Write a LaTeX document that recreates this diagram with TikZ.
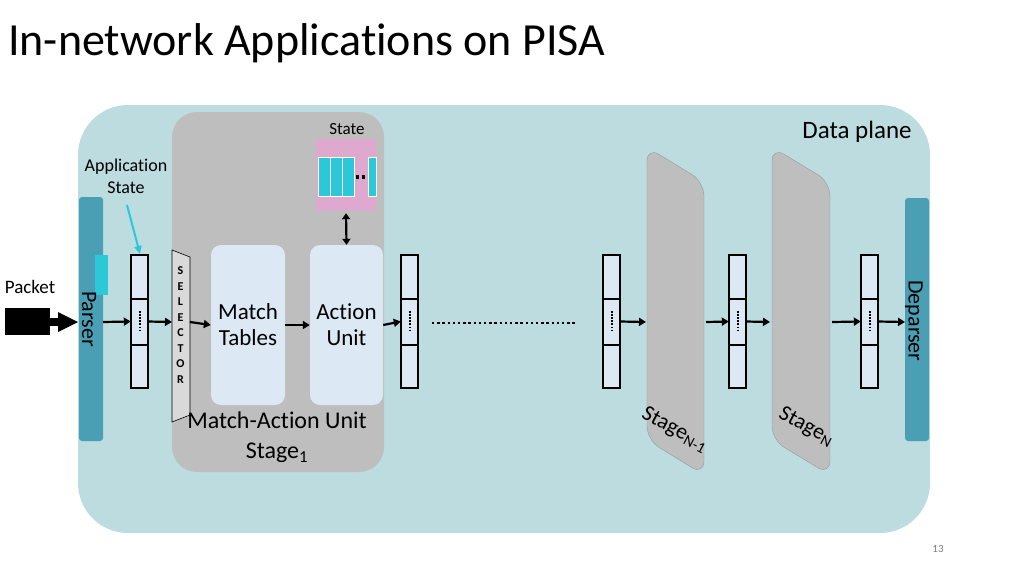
\documentclass[tikz,border=0pt]{standalone}
\usepackage{fontspec}
\setmainfont{Carlito}[Ligatures=NoCommon]
\usetikzlibrary{arrows.meta}
\definecolor{bgblue}{HTML}{BCDCE0}
\definecolor{mau}{HTML}{BEBEBE}
\definecolor{parsec}{HTML}{4A9FB5}
\definecolor{cellc}{HTML}{DCE9F5}
\definecolor{boxc}{HTML}{DCE8F4}
\definecolor{pinkc}{HTML}{DFA8CF}
\definecolor{cyanc}{HTML}{2CC8D8}
\tikzset{
  ar/.style={-{Triangle[length=7pt,width=8pt]}, line width=2.2pt},
  cell/.style={draw=black, line width=2.5pt, fill=cellc},
  unit/.style={fill=boxc, rounded corners=10pt},
  stage/.style={fill=mau, draw=gray!80, rounded corners=14pt},
  lbl/.style={font=\fontsize{17}{19}\selectfont, align=center},
}
\newcommand{\phv}[2]{% name, x left
  \draw[cell] (#2,255) rectangle (#2+17,299);
  \draw[cell] (#2,299) rectangle (#2+17,345);
  \draw[cell] (#2,345) rectangle (#2+17,388);
  \node[inner sep=0, minimum width=17pt, minimum height=133pt] (#1) at (#2+8.5,321.5) {};
  \draw[line width=2pt, dash pattern=on 1.5pt off 1.6pt] (#2+8.5,311) -- (#2+8.5,332);
}
\begin{document}
\begin{tikzpicture}[x=1pt,y=-1pt]
\useasboundingbox (0,0) rectangle (1024,576);
\node[anchor=base west, inner sep=0, font=\fontsize{46}{50}\selectfont] (title) at (8,55) {In-network Applications on PISA};
\fill[bgblue] [rounded corners=50pt] (78,105) rectangle (930,533);
\node[font=\fontsize{25}{27}\selectfont] (dp) at (857,132) {Data plane};
\fill[mau] [rounded corners=25pt] (172,112) rectangle (384,472);
% parser
\fill[parsec, rounded corners=3pt] (79,197) rectangle (103,441);
\fill[cyanc] (95,255) rectangle (108,295);
\node[rotate=-90, font=\fontsize{22}{24}\selectfont] (parser) at (89,319) {Parser};
\fill[parsec, rounded corners=3pt] (905,198) rectangle (929,441);
\node[rotate=-90, font=\fontsize{22}{24}\selectfont] (deparser) at (914,321) {Deparser};
% packet
\node[lbl, font=\fontsize{19}{20}\selectfont] (pkt) at (30,287) {Packet};
\fill[black] (5,308) rectangle (50,335);
\fill[black] (49,318) rectangle (60,326);
\fill[black] (58,312) -- (78,322) -- (58,332) -- cycle;
% PHVs
\phv{v1}{131}
\phv{v2}{401}
\phv{v3}{603}
\phv{v4}{729}
\phv{v5}{861}
% application state
\node[lbl, font=\fontsize{18}{22}\selectfont] (appst) at (126,176) {Application\\State};
\draw[-{Triangle[length=8pt,width=7pt]}, cyanc, line width=2pt] (127,205) -- (140,254);
% selector
\draw[fill=gray!30, draw=black, line width=0.6pt] (172,250) -- (190,257) -- (190,415) -- (172,422) -- cycle;
\node[font=\bfseries\fontsize{12}{15.5}\selectfont, align=center, inner sep=0] (sel) at (180.5,325) {S\\E\\L\\E\\C\\T\\O\\R};
% units
\node[unit, minimum width=74pt, minimum height=160pt, lbl, font=\fontsize{23}{26}\selectfont] (mt) at (248,325) {Match\\Tables};
\node[unit, minimum width=73pt, minimum height=160pt, lbl, font=\fontsize{23}{26}\selectfont] (au) at (346.5,325) {Action\\Unit};
\node[font=\fontsize{24}{30}\selectfont, align=center] (mau) at (277,437) {Match-Action Unit\\Stage\textsubscript{1}};
% state
\node[lbl, font=\fontsize{17}{18}\selectfont] (stl) at (347,129) {State};
\node[fill=pinkc, minimum width=60pt, minimum height=72pt, inner sep=0] (st) at (346,175) {};
\foreach \x in {318,330,342}{\draw[white, fill=cyanc, line width=0.8pt] (\x,157) rectangle (\x+12,196);}
\draw[white, fill=cyanc, line width=0.8pt] (368,157) rectangle (376,196);
\fill[black] (356,175) rectangle (359,179);
\fill[black] (362,175) rectangle (365,179);
\draw[{Triangle[length=6pt,width=8pt]}-{Triangle[length=6pt,width=8pt]}, line width=2.2pt] (st.south) ++(0,2) -- (au.north);
% stages
\draw[stage] (647,147) -- (704,182) -- (704,475) -- (647,440) -- cycle;
\draw[stage] (772,147) -- (830,182) -- (830,475) -- (772,440) -- cycle;
\node[rotate=-28, font=\fontsize{22}{24}\selectfont, anchor=west, inner sep=0] (sn1) at (643,413) {Stage\textsubscript{N-1}};
\node[rotate=-28, font=\fontsize{22}{24}\selectfont, anchor=west, inner sep=0] (sn) at (780,413) {Stage\textsubscript{N}};
% arrows
\draw[ar] (103,322) -- (v1.west);
\draw[ar] (v1.east) -- (172,322);
\draw[ar] (190,322) -- (mt.west);
\draw[ar] (mt.east) -- (au.west);
\draw[ar] (au.east) -- (v2.west);
\draw[line width=2.4pt, dash pattern=on 2.4pt off 2.8pt] (432,323) -- (575,323);
\draw[ar] (v3.east) -- (646,322);
\draw[ar] (706,322) -- (v4.west);
\draw[ar] (v4.east) -- (770,322);
\draw[ar] (832,322) -- (v5.west);
\draw[ar] (v5.east) -- (905,322);
\node[font=\fontsize{11}{12}\selectfont, text=gray] (pg) at (938,549) {13};
\end{tikzpicture}
\end{document}
